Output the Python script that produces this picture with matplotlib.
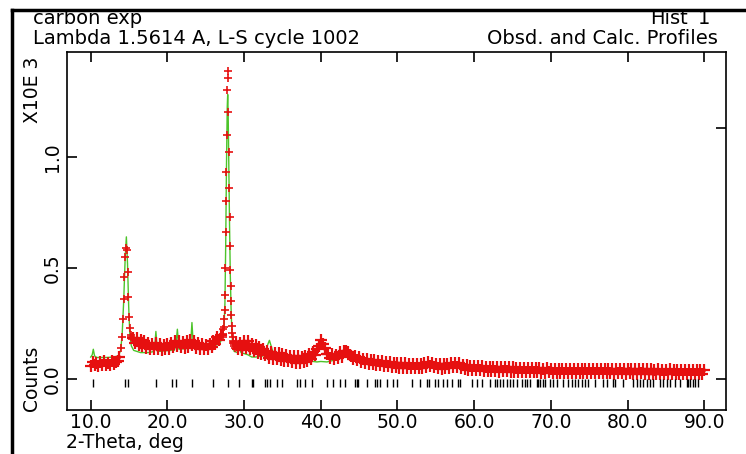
import numpy as np
import matplotlib
matplotlib.use("Agg")
import matplotlib.pyplot as plt
from matplotlib.lines import Line2D

plt.rcParams["font.family"] = ["DejaVu Sans"]

# observed profile, counts in thousands (X10E 3), in scan segments
tt_low = np.arange(10.0, 13.9, 0.25)
tt_peak1 = np.arange(14.0, 15.45, 0.1)
tt_mid = np.arange(15.5, 27.1, 0.25)
tt_peak2 = np.arange(27.2, 28.78, 0.05)
tt_high = np.arange(29.0, 90.1, 0.25)

obs_low = [0.060, 0.077, 0.062, 0.074, 0.058, 0.076, 0.063, 0.080,
           0.062, 0.075, 0.064, 0.081, 0.067, 0.079, 0.082, 0.100]
obs_peak1 = [0.14, 0.19, 0.27, 0.36, 0.46, 0.55, 0.59, 0.58,
             0.48, 0.37, 0.28, 0.23, 0.20, 0.19, 0.18]
obs_mid = [0.185, 0.165, 0.185, 0.155, 0.178, 0.148, 0.170, 0.142, 0.165, 0.137,
           0.160, 0.135, 0.162, 0.138, 0.158, 0.132, 0.155, 0.134, 0.160, 0.136,
           0.165, 0.144, 0.170, 0.148, 0.172, 0.145, 0.168, 0.141, 0.170, 0.146,
           0.175, 0.155, 0.170, 0.141, 0.163, 0.135, 0.158, 0.136, 0.155, 0.138,
           0.160, 0.146, 0.170, 0.160, 0.188, 0.178, 0.200]
obs_peak2 = [0.205, 0.190, 0.225, 0.235, 0.27, 0.31, 0.38, 0.50, 0.66, 0.80,
             0.93, 1.10, 1.30, 1.385, 1.355, 1.20, 1.02, 0.86, 0.73, 0.60,
             0.49, 0.42, 0.35, 0.29, 0.24, 0.21, 0.19, 0.17, 0.165, 0.150,
             0.158, 0.140]
obs_high = [
    0.168, 0.135, 0.163, 0.130, 0.173, 0.142, 0.171, 0.137,
    0.160, 0.128, 0.152, 0.120, 0.145, 0.115, 0.138, 0.108,
    0.128, 0.097, 0.124, 0.093, 0.120, 0.090, 0.116, 0.087,
    0.113, 0.083, 0.110, 0.080, 0.106, 0.076, 0.104, 0.074,
    0.103, 0.075, 0.101, 0.077, 0.105, 0.082, 0.113, 0.092,
    0.121, 0.107, 0.135, 0.150, 0.175, 0.160, 0.140, 0.115,
    0.115, 0.095, 0.113, 0.092, 0.111, 0.097, 0.121, 0.102,
    0.128, 0.127, 0.121, 0.107, 0.103, 0.089, 0.105, 0.085,
    0.098, 0.077, 0.093, 0.072, 0.091, 0.069, 0.088, 0.067,
    0.085, 0.065, 0.083, 0.063, 0.081, 0.061, 0.078, 0.059,
    0.076, 0.055, 0.075, 0.053, 0.073, 0.052, 0.071, 0.051,
    0.071, 0.050, 0.070, 0.049, 0.069, 0.051, 0.068, 0.049,
    0.069, 0.052, 0.073, 0.057, 0.077, 0.059, 0.075, 0.055,
    0.069, 0.049, 0.067, 0.047, 0.068, 0.049, 0.069, 0.052,
    0.071, 0.055, 0.075, 0.057, 0.071, 0.049, 0.065, 0.045,
    0.063, 0.043, 0.061, 0.042, 0.060, 0.041, 0.059, 0.040,
    0.058, 0.039, 0.057, 0.037, 0.056, 0.037, 0.055, 0.036,
    0.055, 0.035, 0.056, 0.037, 0.057, 0.038, 0.054, 0.035,
    0.053, 0.034, 0.052, 0.033, 0.051, 0.033, 0.052, 0.032,
    0.050, 0.031, 0.049, 0.031, 0.050, 0.032, 0.049, 0.030,
    0.048, 0.030, 0.049, 0.031, 0.048, 0.029, 0.047, 0.029,
    0.048, 0.030, 0.047, 0.028, 0.048, 0.029, 0.047, 0.028,
    0.046, 0.028, 0.047, 0.029, 0.046, 0.027, 0.047, 0.028,
    0.046, 0.027, 0.045, 0.028, 0.047, 0.029, 0.046, 0.027,
    0.045, 0.027, 0.046, 0.028, 0.045, 0.026, 0.046, 0.027,
    0.045, 0.027, 0.044, 0.026, 0.045, 0.027, 0.044, 0.026,
    0.044, 0.026, 0.045, 0.027, 0.044, 0.025, 0.045, 0.026,
    0.044, 0.025, 0.043, 0.026, 0.044, 0.025, 0.043, 0.025,
    0.043, 0.025, 0.044, 0.026, 0.043, 0.024, 0.043, 0.025,
    0.042, 0.024, 0.043, 0.025, 0.042, 0.024, 0.043, 0.025,
    0.042, 0.025, 0.043, 0.024, 0.041,
]

# calculated profile
calc_tt = [10.0, 10.2, 10.34, 10.5, 10.8, 12.0, 13.0, 13.6, 13.9, 14.1,
           14.3, 14.5, 14.65, 14.8, 14.95, 15.1, 15.3, 15.6, 16.5, 17.5,
           18.3, 18.5, 18.7, 20.5, 20.7, 20.9, 21.1, 21.3, 21.5, 23.0,
           23.2, 23.4, 25.0, 25.8, 25.95, 26.1, 26.8, 27.2, 27.4, 27.5,
           27.6, 27.7, 27.8, 27.86, 27.92, 28.0, 28.1, 28.2, 28.3, 28.4,
           28.5, 28.7, 29.2, 29.4, 29.6, 30.5, 31.0, 31.5, 32.5, 32.9,
           33.3, 33.7, 34.2, 35.5, 37.0, 38.5, 39.5, 40.0, 40.8, 42.0,
           43.2, 44.5, 46.0, 48.0, 50.0, 53.0, 56.0, 60.0, 65.0, 70.0,
           80.0, 90.0]
calc_counts = [0.100, 0.110, 0.135, 0.105, 0.098, 0.098, 0.100, 0.105, 0.130, 0.200,
               0.350, 0.550, 0.640, 0.520, 0.330, 0.200, 0.150, 0.130, 0.120, 0.120,
               0.125, 0.215, 0.125, 0.130, 0.165, 0.130, 0.150, 0.225, 0.135, 0.140,
               0.255, 0.140, 0.140, 0.150, 0.170, 0.150, 0.160, 0.190, 0.250, 0.340,
               0.600, 0.950, 1.220, 1.280, 1.200, 0.980, 0.700, 0.470, 0.320, 0.220,
               0.160, 0.125, 0.120, 0.140, 0.120, 0.110, 0.100, 0.100, 0.105, 0.140,
               0.175, 0.130, 0.100, 0.090, 0.085, 0.082, 0.078, 0.080, 0.078, 0.088,
               0.100, 0.090, 0.075, 0.066, 0.062, 0.058, 0.056, 0.050, 0.044, 0.040,
               0.036, 0.034]

# reflection positions
refl_tt = [10.34, 14.47, 14.9, 18.51, 20.64, 21.08, 23.16, 25.9, 27.86, 29.4,
           30.99, 31.2, 32.73, 32.95, 33.38, 34.25, 34.9, 36.86, 37.29, 37.94,
           38.81, 40.77, 41.63, 42.5, 43.15, 44.46, 44.68, 44.89, 45.98, 47.07,
           47.29, 47.72, 48.59, 49.45, 49.9, 51.85, 52.93, 53.81, 54.15, 54.89,
           55.32, 55.97, 56.41, 57.06, 57.93, 58.15, 59.67, 60.33, 60.98, 62.06,
           62.71, 63.01, 63.37, 63.8, 64.24, 64.67, 65.1, 65.54, 66.19, 66.62,
           66.85, 67.28, 68.15, 68.36, 68.58, 69.01, 69.23, 69.88, 70.31, 70.76,
           71.62, 72.27, 72.71, 73.14, 73.57, 74.01, 74.45, 74.88, 75.75, 76.83,
           77.27, 78.14, 78.36, 79.44, 80.75, 81.18, 81.62, 82.05, 82.49, 82.92,
           83.35, 84.22, 84.66, 85.1, 85.53, 86.18, 86.83, 87.7, 87.92, 88.14,
           88.57, 88.79, 89.22]
refl_level = -0.017

x_ticks = [10, 20, 30, 40, 50, 60, 70, 80, 90]
y_ticks = [0.0, 0.5, 1.0]

RED = "#e61010"
GREEN = "#4cc42a"

W, H = 746, 454
fig = plt.figure(figsize=(W / 100, H / 100), dpi=100)
ax = fig.add_axes([67 / W, 1 - 410 / H, (726 - 67) / W, (410 - 51.5) / H])

ax.plot(calc_tt, calc_counts, color=GREEN, lw=1.0, zorder=2)

segments = [(tt_low, obs_low, True), (tt_peak1, obs_peak1, False),
            (tt_mid, obs_mid, True), (tt_peak2, obs_peak2, False),
            (tt_high, obs_high, True)]
for tt, counts, dense in segments:
    if dense:
        # densely sampled background: crosses merge into a solid band
        ax.plot(tt, counts, "-", color=RED, lw=2.4, zorder=3)
        ax.plot(tt, counts, "+", color=RED, ms=8, mew=1.6, zorder=4)
    else:
        ax.plot(tt, counts, "+", color=RED, ms=6, mew=1.2, zorder=4)

ax.plot(refl_tt, [refl_level] * len(refl_tt), "|", color="black",
        ms=6, mew=1.0, zorder=4)

ax.set_xlim(6.91, 92.83)
ax.set_ylim(-0.138, 1.473)
ax.set_xticks(x_ticks)
ax.set_xticklabels([f"{v:.1f}" for v in x_ticks])
ax.set_yticks(y_ticks)
ax.set_yticklabels([f"{v:.1f}" for v in y_ticks], rotation=90, va="center")
ax.tick_params(axis="x", direction="in", length=7, width=1.2, top=True,
               labelsize=13.5, pad=2)
ax.tick_params(axis="y", direction="in", length=7, width=1.2, right=False,
               labelsize=13.5, pad=3.5)
for s in ax.spines.values():
    s.set_linewidth(1.2)

# right-hand ticks
ax2 = ax.twinx()
ax2.set_ylim(ax.get_ylim())
ax2.set_yticks([0.0, 1.13])
ax2.tick_params(direction="in", length=7, width=1.2, labelright=False)
for s in ax2.spines.values():
    s.set_visible(False)


def ftext(x, y, s, size=14, **kw):
    fig.text(x / W, 1 - y / H, s, fontsize=size, **kw)


ftext(33, 18, "carbon exp", ha="left", va="center")
ftext(33, 38, "Lambda 1.5614 A, L-S cycle 1002", ha="left", va="center")
ftext(650, 18, "Hist", ha="left", va="center")
ftext(704, 18, "1", ha="center", va="center")
ftext(718, 38, "Obsd. and Calc. Profiles", ha="right", va="center")
ftext(32, 90, "X10E 3", size=13.5, rotation=90, ha="center", va="center")
ftext(32, 378, "Counts", size=13.5, rotation=90, ha="center", va="center")
ftext(66, 442, "2-Theta, deg", size=13.5, ha="left", va="center")

# scanned page border
fig.add_artist(Line2D([12 / W, 1], [1 - 10 / H, 1 - 10 / H], color="black", lw=2.5))
fig.add_artist(Line2D([12 / W, 12 / W], [0, 1 - 10 / H], color="black", lw=2.5))

fig.savefig("out.png", dpi=100)
